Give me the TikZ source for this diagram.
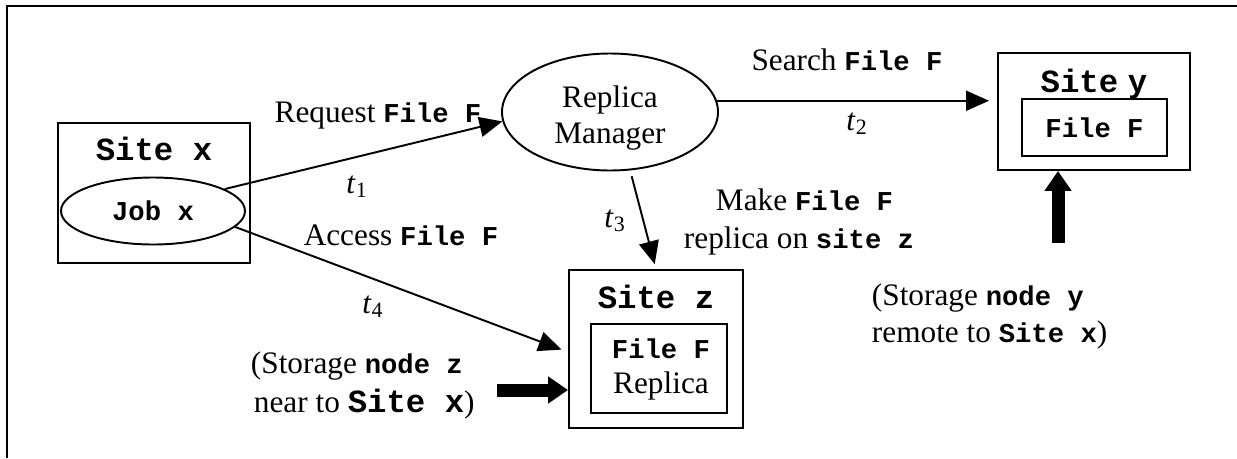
\documentclass[tikz,border=0pt]{standalone}
\usepackage{fontspec}
\setmainfont{Liberation Serif}
\setmonofont{Liberation Mono}
\usetikzlibrary{shapes.geometric, arrows.meta}

\newcommand{\cbig}[1]{{\fontsize{18.4}{22}\selectfont\ttfamily\bfseries #1}}
\newcommand{\csmall}[1]{{\fontsize{15.5}{20}\selectfont\ttfamily\bfseries #1}}
\newcommand{\tlabel}[1]{\textit{t}\textsubscript{#1}}

\begin{document}
\begin{tikzpicture}[x=0.2mm, y=-0.2mm, line width=1.1pt,
                    font=\fontsize{17.8}{21.6}\selectfont,
                    box/.style={draw, rectangle, inner sep=0pt},
                    oval/.style={draw, ellipse, inner sep=0pt},
                    txt/.style={inner sep=0pt, anchor=base},
                    txtl/.style={inner sep=0pt, anchor=base west},
                    link/.style={-{Triangle[length=4.6mm, width=4mm]}},
                    fat/.style={line width=2.6mm, -{Triangle[length=4mm, width=5.2mm]}}]
                    \useasboundingbox (0,0) rectangle (1237,458);

                    % Frame:
                    \draw[line width=1.4pt] (7,458) -- (7,6) -- (1237,6);

                    % Site x and its job:
                    \node[box, minimum width=38.4mm, minimum height=28mm] (sitex) at (154,193) {};
                    \node[txt] (sitexname) at (154,160) {\cbig{Site x}};
                    \node[oval, minimum width=36.8mm, minimum height=13.4mm] (job) at (153,211) {\csmall{Job x}};

                    % Replica manager:
                    \node[oval, minimum width=43.2mm, minimum height=23.4mm] (rm) at (610,112) {};
                    \node[txt] (rmtop) at (610,107) {Replica};
                    \node[txt] (rmbottom) at (610,143) {Manager};

                    % Site y holding the file:
                    \node[box, minimum width=38.4mm, minimum height=23.4mm] (sitey) at (1094,111.5) {};
                    \node[txt] (siteyname) at (1094,92) {\cbig{Site\hspace{-0.3em} y}};
                    \node[box, minimum width=29mm, minimum height=11.4mm] (filef) at (1094.5,127.5) {\csmall{File F}};

                    % Site z holding the replica:
                    \node[box, minimum width=34.8mm, minimum height=31.6mm] (sitez) at (656,349) {};
                    \node[txt] (sitezname) at (656,308) {\cbig{Site z}};
                    \node[box, minimum width=27.2mm, minimum height=17.8mm] (replica) at (659,368.5) {};
                    \node[txt] (replicafile) at (661,358) {\csmall{File F}};
                    \node[txt] (replicaword) at (661,393) {Replica};

                    % Requests:
                    \draw[link] (job.17) -- (rm.185);
                    \draw[link, shorten >=1.6mm] (rm.6) -- (rm.6 -| sitey.west);
                    \draw[link, shorten <=1.2mm, shorten >=1mm] (rm.-71) -- (sitez.north);
                    \draw[link, shorten >=1.4mm] (job.-11) -- (sitez.182);

                    % Storage arrows:
                    \coordinate (znear) at (497,390);
                    \draw[fat] (znear) -- (znear -| sitez.west);
                    \coordinate (yfar) at (1058,243);
                    \draw[fat] (yfar) -- (yfar |- sitey.south);

                    % Labels:
                    \node[txt] (reqlbl) at (378,122) {Request \csmall{File F}};
                    \node[txt] (t1) at (357,193) {\tlabel{1}};
                    \node[txt] (searchlbl) at (847,70) {Search \csmall{File F}};
                    \node[txt] (t2) at (857,130) {\tlabel{2}};
                    \node[txt] (t3) at (615,227) {\tlabel{3}};
                    \node[txtl] (makelbl) at (715,210) {Make \csmall{File F}};
                    \node[txtl] (makelbltwo) at (683,248) {replica on \csmall{site z}};
                    \node[txt] (acclbl) at (401,245) {Access \csmall{File F}};
                    \node[txt] (t4) at (373,313) {\tlabel{4}};
                    \node[txtl] (znearlbl) at (250,373) {(Storage \csmall{node z}};
                    \node[txtl] (znearlbltwo) at (253,412) {near to \cbig{Site x})};
                    \node[txtl] (yfarlbl) at (871,305) {(Storage \csmall{node y}};
                    \node[txtl] (yfarlbltwo) at (871,342) {remote to \csmall{Site x})};
                \end{tikzpicture}
\end{document}
